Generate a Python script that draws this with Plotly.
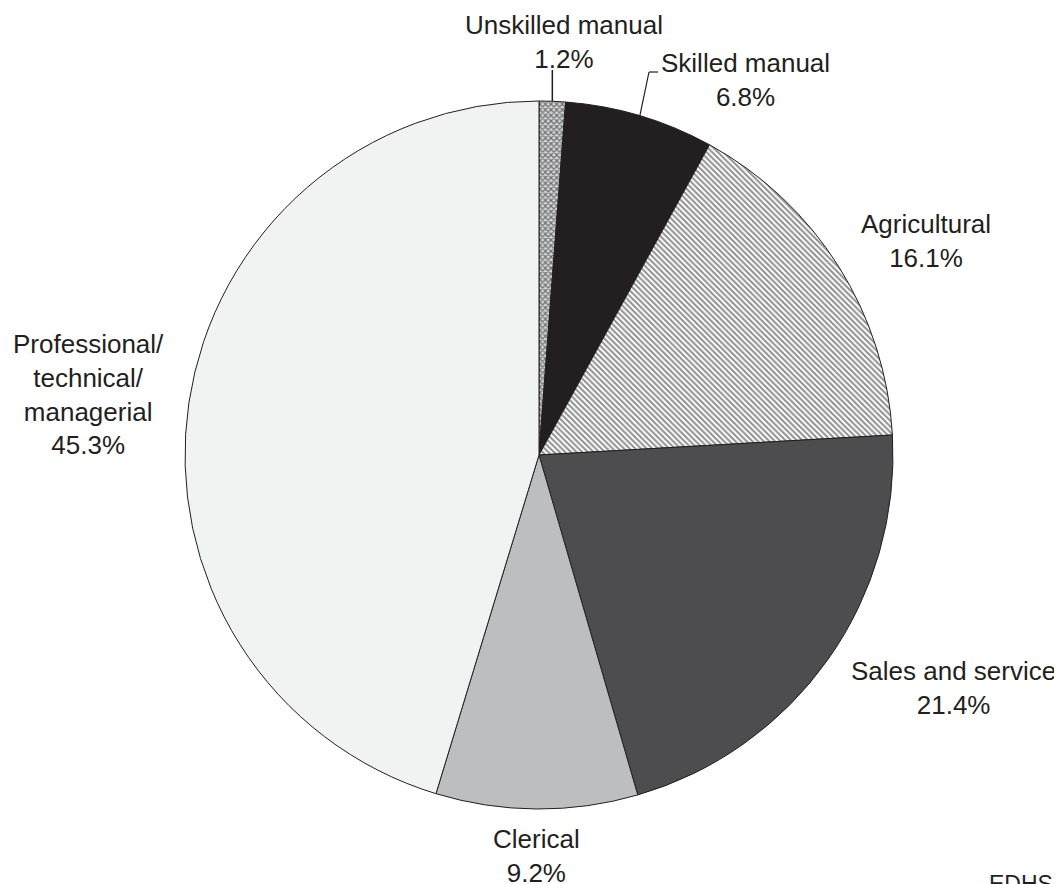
import math
import plotly.graph_objects as go

# page offset (browser body margin) and figure size
OFF = 8
W, H = 1054, 876

categories = ["Unskilled manual", "Skilled manual", "Agricultural",
              "Sales and service", "Clerical", "Professional/<br>technical/<br>managerial"]
values = [1.2, 6.8, 16.1, 21.4, 9.2, 45.3]
value_labels = ["1.2%", "6.8%", "16.1%", "21.4%", "9.2%", "45.3%"]
colors = ["#d6d6d6", "#231f20", "#ffffff", "#4d4d4f", "#bcbec0", "#f1f2f2"]
pattern_shapes = ["x", "", "\\", "", "", ""]
pattern_fg = ["#6d6e71", "#231f20", "#8f8f8f", "#4d4d4f", "#bcbec0", "#f1f2f2"]

# pie geometry (screen pixels)
CX, CY, R = 539, 455, 354

def px(x):
    return (x - OFF) / W

def py(y):
    return 1 - (y - OFF) / H

fig = go.Figure()
fig.add_trace(go.Pie(
    values=values,
    labels=[c.replace("<br>", " ") for c in categories],
    sort=False,
    direction="clockwise",
    rotation=0,
    textinfo="none",
    hoverinfo="skip",
    showlegend=False,
    marker=dict(
        colors=colors,
        line=dict(color="#231f20", width=1),
        pattern=dict(shape=pattern_shapes, fgcolor=pattern_fg,
                     bgcolor=colors, size=4, solidity=0.5),
    ),
    domain=dict(x=[px(CX - R), px(CX + R)], y=[py(CY + R), py(CY - R)]),
))

# label centres in screen pixels
label_pos = [(564, 42), (745, 80), (926, 241), (953, 688), (536, 856), (88, 394)]
font = dict(family="Liberation Sans, Arial, sans-serif", size=26, color="#231f20")
for cat, val, (lx, ly) in zip(categories, value_labels, label_pos):
    fig.add_annotation(x=px(lx), y=py(ly), xref="paper", yref="paper",
                       text=f"{cat}<br>{val}", showarrow=False, align="center",
                       xanchor="center", yanchor="middle", font=font)

# leader lines for the two small slices, anchored at slice mid-angles
cum = 0
mids = []
for v in values:
    mids.append((cum + v / 2) / 100 * 2 * math.pi)
    cum += v

def edge(a):
    return CX + R * math.sin(a), CY - R * math.cos(a)

ux, uy = edge(mids[0])
fig.add_shape(type="line", xref="paper", yref="paper",
              x0=px(ux), y0=py(uy), x1=px(ux), y1=py(70),
              line=dict(color="#231f20", width=1.5))
sx, sy = edge(mids[1])
fig.add_shape(type="line", xref="paper", yref="paper",
              x0=px(sx), y0=py(sy), x1=px(649), y1=py(72),
              line=dict(color="#231f20", width=1.2))
fig.add_shape(type="line", xref="paper", yref="paper",
              x0=px(649), y0=py(72), x1=px(658), y1=py(72),
              line=dict(color="#231f20", width=1.2))

fig.add_annotation(x=px(987), y=py(869), xref="paper", yref="paper",
                   text="EDHS 2011", showarrow=False, xanchor="left", yanchor="top",
                   font=dict(family="Liberation Sans, Arial, sans-serif", size=23, color="#231f20"))

fig.update_layout(width=W, height=H, margin=dict(l=0, r=0, t=0, b=0),
                  paper_bgcolor="white", plot_bgcolor="white")

fig.write_html("out.html")
